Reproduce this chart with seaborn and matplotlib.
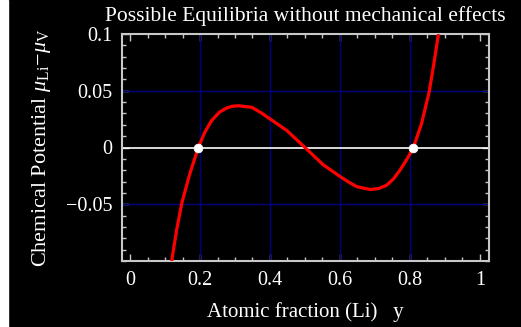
import matplotlib
matplotlib.use("Agg")
import matplotlib.pyplot as plt
import seaborn as sns
import pandas as pd
from matplotlib.patches import Rectangle
from matplotlib.ticker import MultipleLocator

# Daten: Kurve
y_frac = [0.119, 0.133, 0.148, 0.170, 0.195, 0.213, 0.233, 0.255, 0.276, 0.290,
          0.310, 0.348, 0.375, 0.400, 0.448, 0.500, 0.552, 0.600, 0.625, 0.648,
          0.686, 0.710, 0.733, 0.752, 0.771, 0.790, 0.810, 0.833, 0.855, 0.868,
          0.881]
mu_diff = [-0.100, -0.073, -0.049, -0.024, 0.000, 0.013, 0.0237, 0.031, 0.0348, 0.0362,
           0.0368, 0.0354, 0.0305, 0.0252, 0.0150, 0.000, -0.0152, -0.0255, -0.0305, -0.0345,
           -0.0370, -0.0362, -0.0333, -0.0280, -0.0202, -0.0110, 0.000, 0.0208, 0.049, 0.073,
           0.099]

# Gleichgewichtspunkte
eq_frac = [0.195, 0.810]
eq_mu = [0.0, 0.0]

x_ticks = [0, 0.2, 0.4, 0.6, 0.8, 1.0]
x_labels = ["0", "0.2", "0.4", "0.6", "0.8", "1"]
y_ticks = [-0.05, 0, 0.05, 0.1]
y_labels = ["\u22120.05", "0", "0.05", "0.1"]

df = pd.DataFrame({"y": y_frac, "mu": mu_diff})
df_eq = pd.DataFrame({"y": eq_frac, "mu": eq_mu})

sns.set_style("ticks")
plt.rcParams["font.family"] = ["Liberation Serif", "DejaVu Serif"]
plt.rcParams["mathtext.fontset"] = "custom"
plt.rcParams["mathtext.rm"] = "Liberation Serif"
plt.rcParams["mathtext.it"] = "Liberation Serif:italic"

fig = plt.figure(figsize=(5.21, 3.27), dpi=100, facecolor="black")
fig.patches.append(Rectangle((0, 0), 8 / 521, 1, transform=fig.transFigure,
                             color="white", zorder=-1))
ax = fig.add_axes([122 / 521, 1 - 261 / 327, 367 / 521, 227 / 327])
ax.set_facecolor("black")

# Gitter
for gx in [0.2, 0.4, 0.6, 0.8]:
    ax.axvline(gx, color="#000080", lw=1.0, zorder=1)
for gy in [-0.05, 0.05]:
    ax.axhline(gy, color="#000080", lw=1.0, zorder=1)
ax.axhline(0, color="white", lw=1.2, zorder=2)

sns.lineplot(data=df, x="y", y="mu", sort=False, color="red", lw=2.3,
             ax=ax, zorder=3)
sns.scatterplot(data=df_eq, x="y", y="mu", color="white", s=40,
                edgecolor="white", ax=ax, zorder=4)

ax.set_xlim(-0.023, 1.026)
ax.set_ylim(-0.1, 0.1)
ax.set_xticks(x_ticks)
ax.set_xticklabels(x_labels)
ax.set_yticks(y_ticks)
ax.set_yticklabels(y_labels)
ax.xaxis.set_minor_locator(MultipleLocator(0.05))
ax.yaxis.set_minor_locator(MultipleLocator(0.01))
ax.tick_params(which="both", direction="in", top=True, right=True,
               color="#c8c8c8", labelcolor="white", labelsize=14.5)
ax.tick_params(which="major", length=5, width=1, pad=7)
ax.tick_params(which="minor", length=3, width=1)
for s in ax.spines.values():
    s.set_color("#c8c8c8")
    s.set_linewidth(1.5)

ax.set_title("Possible Equilibria without mechanical effects",
             color="white", fontsize=15.5, pad=9)
ax.set_xlabel("Atomic fraction (Li)   y", color="white", fontsize=15, labelpad=9)
ax.set_ylabel(r"Chemical Potential $\mu_{\rm Li}\!-\!\mu_{\rm V}$",
              color="white", fontsize=16, labelpad=9)

fig.savefig("out.png", dpi=100, facecolor="black")
